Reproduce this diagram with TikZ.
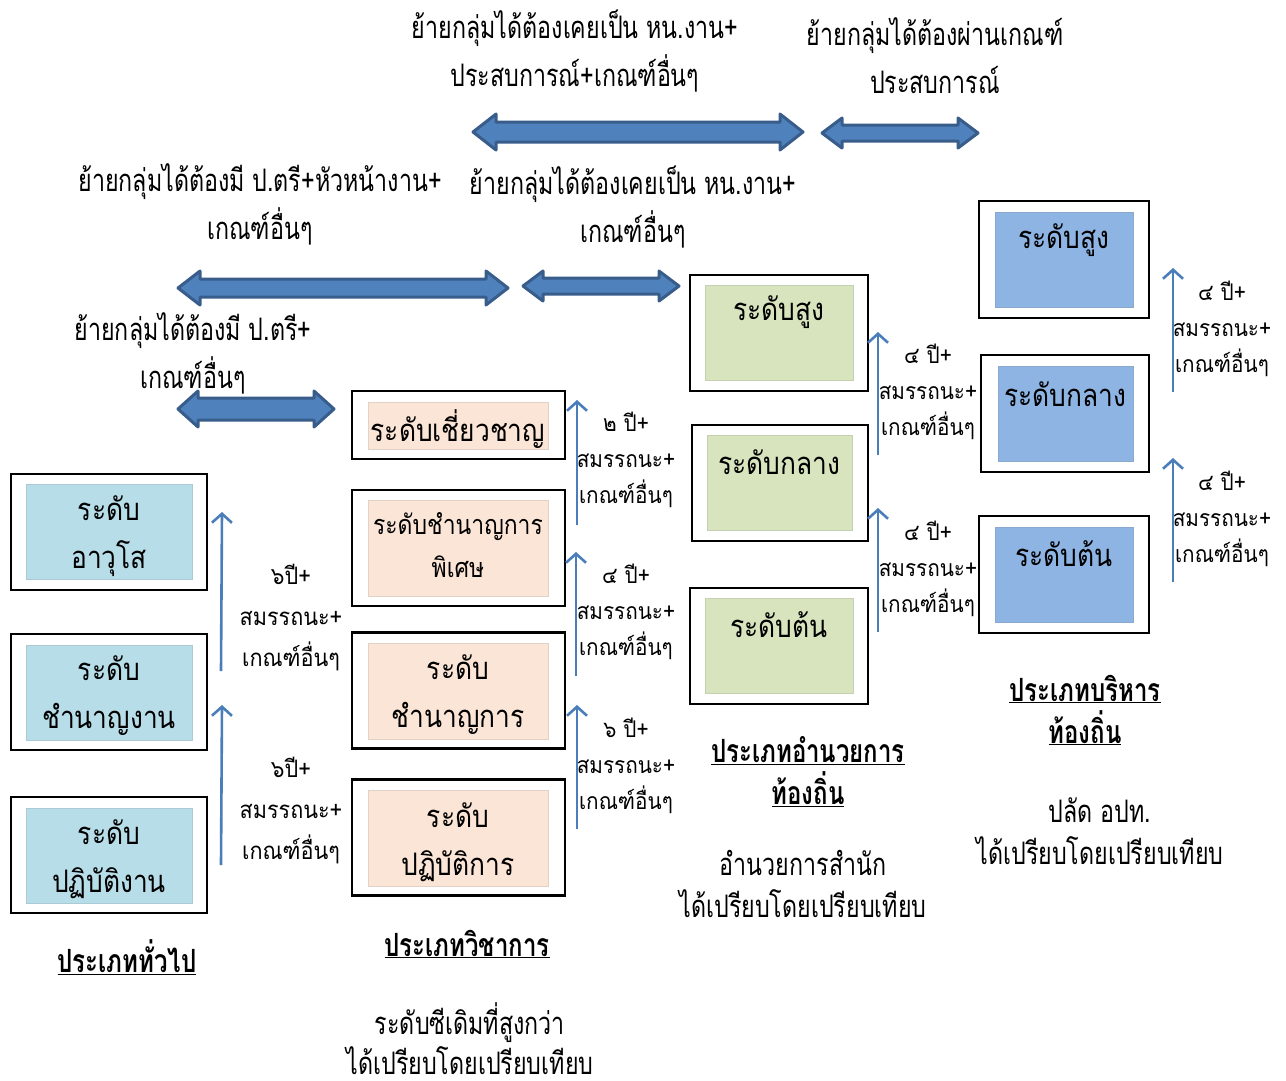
\documentclass[tikz,border=0pt]{standalone}
\usepackage{fontspec}
\setmainfont[Script=Thai]{Loma}
\newfontfamily\thcond[Script=Thai,FakeStretch=0.75]{Loma}
\newfontfamily\thbox[Script=Thai,FakeStretch=0.85]{Loma}
\newfontfamily\thlbl[Script=Thai,FakeStretch=0.9]{Loma}
\usetikzlibrary{arrows.meta}
\definecolor{genfill}{HTML}{B7DDE8}
\definecolor{acafill}{HTML}{FBE5D6}
\definecolor{dirfill}{HTML}{D7E4BD}
\definecolor{admfill}{HTML}{8EB4E3}
\definecolor{arrowblue}{HTML}{4A7EBB}
\definecolor{blockfill}{HTML}{4F81BD}
\definecolor{blockline}{HTML}{385D8A}
\newcommand\blockarr[7]{% name, left x, right x, yc, shaft half, head half, head length
  \coordinate (#1L) at (#2,#4);
  \coordinate (#1R) at (#3,#4);
  \draw[blockarrow] (#1L) -- ({#2+#7},{#4-#6}) -- ({#2+#7},{#4-#5}) -- ({#3-#7},{#4-#5}) -- ({#3-#7},{#4-#6}) -- (#1R)
   -- ({#3-#7},{#4+#6}) -- ({#3-#7},{#4+#5}) -- ({#2+#7},{#4+#5}) -- ({#2+#7},{#4+#6}) -- cycle;}
\begin{document}
\begin{tikzpicture}[x=1pt,y=-1pt,
  outerbox/.style={draw=black,line width=2.2pt,inner sep=0pt,fill=white},
  innerbox/.style={inner sep=0pt,draw=#1!80!gray,line width=0.6pt,fill=#1},
  boxtext/.style={align=center,font=\thbox\fontsize{31}{48}\selectfont,inner sep=0pt},
  lbl/.style={align=center,font=\thlbl\fontsize{23}{36}\selectfont,inner sep=0pt},
  toptext/.style={align=center,font=\thcond\fontsize{31}{48}\selectfont,inner sep=0pt},
  head/.style={align=center,font=\thcond\bfseries\fontsize{32}{42}\selectfont,inner sep=0pt},
  bodytext/.style={align=center,font=\thcond\fontsize{31}{42}\selectfont,inner sep=0pt},
  uparrow/.style={draw=arrowblue,line width=2.6pt,-{Straight Barb[length=9pt,width=20pt,line width=2.6pt]}},
  blockarrow/.style={fill=blockfill,draw=blockline,line width=3pt,line join=round}
]
\useasboundingbox[fill=white] (0,0) rectangle (1286,1080);

% ---------- top block arrows ----------
\blockarr{aa}{473}{803}{132}{10}{18}{23}
\blockarr{ab}{822}{978}{133}{8}{15}{20}
\blockarr{ba}{178}{508}{288}{9}{17}{22}
\blockarr{bb}{523}{679}{286}{8}{15}{20}
\blockarr{ca}{178}{334}{409}{11}{18}{20}

% ---------- top texts ----------
\node[toptext] (t1) at (575,51) {ย้ายกลุ่มได้ต้องเคยเป็น หน.งาน+\\ประสบการณ์+เกณฑ์อื่นๆ};
\node[toptext] (t2) at (935,56) {ย้ายกลุ่มได้ต้องผ่านเกณฑ์\\ประสบการณ์};
\node[toptext] (t3) at (260,204) {ย้ายกลุ่มได้ต้องมี ป.ตรี+หัวหน้างาน+\\เกณฑ์อื่นๆ};
\node[toptext] (t4) at (633,207) {ย้ายกลุ่มได้ต้องเคยเป็น หน.งาน+\\เกณฑ์อื่นๆ};
\node[toptext] (t5) at (193,353) {ย้ายกลุ่มได้ต้องมี ป.ตรี+\\เกณฑ์อื่นๆ};

% ---------- general column ----------
\node[outerbox,minimum width=196pt,minimum height=116pt] (g1) at (109,532) {};
\node[innerbox=genfill,minimum width=166pt,minimum height=95pt] (g1i) at (109,531.5) {};
\node[boxtext] (g1t) at (109,536) {ระดับ\\อาวุโส};
\node[outerbox,minimum width=196pt,minimum height=116pt] (g2) at (109,692) {};
\node[innerbox=genfill,minimum width=166pt,minimum height=95pt] (g2i) at (109,692.5) {};
\node[boxtext] (g2t) at (109,696) {ระดับ\\ชำนาญงาน};
\node[outerbox,minimum width=196pt,minimum height=116pt] (g3) at (109,855) {};
\node[innerbox=genfill,minimum width=166pt,minimum height=95pt] (g3i) at (109,855.5) {};
\node[boxtext] (g3t) at (109,859) {ระดับ\\ปฏิบัติงาน};

\coordinate (ga1s) at (221,671); \coordinate (ga1e) at (222,512);
\coordinate (ga2s) at (221,865); \coordinate (ga2e) at (222,705);
\draw[uparrow] (ga1s) -- (ga1e);
\draw[uparrow] (ga2s) -- (ga2e);
\node[lbl,font=\thlbl\fontsize{24}{41}\selectfont] (gl1) at (291,618) {๖ปี+\\สมรรถนะ+\\เกณฑ์อื่นๆ};
\node[lbl,font=\thlbl\fontsize{24}{41}\selectfont] (gl2) at (291,811) {๖ปี+\\สมรรถนะ+\\เกณฑ์อื่นๆ};

% ---------- academic column ----------
\node[outerbox,minimum width=213pt,minimum height=68pt] (a1) at (458.5,425) {};
\node[innerbox=acafill,minimum width=180pt,minimum height=47pt] (a1i) at (458,425.5) {};
\node[boxtext] (a1t) at (458,429) {ระดับเชี่ยวชาญ};
\node[outerbox,minimum width=213pt,minimum height=116pt] (a2) at (458.5,548) {};
\node[innerbox=acafill,minimum width=180pt,minimum height=96pt] (a2i) at (458,548) {};
\node[boxtext,font=\thbox\fontsize{27}{43}\selectfont] (a2t) at (458,545) {ระดับชำนาญการ\\พิเศษ};
\node[outerbox,minimum width=213pt,minimum height=116pt] (a3) at (458.5,690.5) {};
\node[innerbox=acafill,minimum width=180pt,minimum height=96pt] (a3i) at (458,691) {};
\node[boxtext] (a3t) at (458,695) {ระดับ\\ชำนาญการ};
\node[outerbox,minimum width=213pt,minimum height=116pt] (a4) at (458.5,837.5) {};
\node[innerbox=acafill,minimum width=180pt,minimum height=96pt] (a4i) at (458,838) {};
\node[boxtext] (a4t) at (458,842) {ระดับ\\ปฏิบัติการ};

\coordinate (aa1s) at (577,525); \coordinate (aa1e) at (577,400);
\coordinate (aa2s) at (576,676); \coordinate (aa2e) at (576,552);
\coordinate (aa3s) at (577,829); \coordinate (aa3e) at (577,705);
\draw[uparrow] (aa1s) -- (aa1e);
\draw[uparrow] (aa2s) -- (aa2e);
\draw[uparrow] (aa3s) -- (aa3e);
\node[lbl] (al1) at (626,460) {๒ ปี+\\สมรรถนะ+\\เกณฑ์อื่นๆ};
\node[lbl] (al2) at (626,612) {๔ ปี+\\สมรรถนะ+\\เกณฑ์อื่นๆ};
\node[lbl] (al3) at (626,766) {๖ ปี+\\สมรรถนะ+\\เกณฑ์อื่นๆ};

% ---------- director column ----------
\node[outerbox,minimum width=178pt,minimum height=116pt] (d1) at (779,333) {};
\node[innerbox=dirfill,minimum width=148pt,minimum height=95pt] (d1i) at (779,332.5) {};
\node[boxtext] (d1t) at (779,312) {ระดับสูง};
\node[outerbox,minimum width=176pt,minimum height=116pt] (d2) at (780,483) {};
\node[innerbox=dirfill,minimum width=145pt,minimum height=95pt] (d2i) at (779.5,482.5) {};
\node[boxtext] (d2t) at (779.5,462) {ระดับกลาง};
\node[outerbox,minimum width=178pt,minimum height=116pt] (d3) at (779,646) {};
\node[innerbox=dirfill,minimum width=148pt,minimum height=95pt] (d3i) at (779,645.5) {};
\node[boxtext] (d3t) at (779,625) {ระดับต้น};

\coordinate (da1s) at (878,455); \coordinate (da1e) at (878,332);
\coordinate (da2s) at (878,632); \coordinate (da2e) at (878,508);
\draw[uparrow] (da1s) -- (da1e);
\draw[uparrow] (da2s) -- (da2e);
\node[lbl] (dl1) at (928,392) {๔ ปี+\\สมรรถนะ+\\เกณฑ์อื่นๆ};
\node[lbl] (dl2) at (928,569) {๔ ปี+\\สมรรถนะ+\\เกณฑ์อื่นๆ};

% ---------- admin column ----------
\node[outerbox,minimum width=170pt,minimum height=117pt] (m1) at (1064,259.5) {};
\node[innerbox=admfill,minimum width=138pt,minimum height=95pt] (m1i) at (1064,259.5) {};
\node[boxtext] (m1t) at (1064,240) {ระดับสูง};
\node[outerbox,minimum width=168pt,minimum height=117pt] (m2) at (1065,413.5) {};
\node[innerbox=admfill,minimum width=135pt,minimum height=95pt] (m2i) at (1065.5,413.5) {};
\node[boxtext] (m2t) at (1065.5,394) {ระดับกลาง};
\node[outerbox,minimum width=170pt,minimum height=117pt] (m3) at (1064,574.5) {};
\node[innerbox=admfill,minimum width=138pt,minimum height=95pt] (m3i) at (1064,574.5) {};
\node[boxtext] (m3t) at (1064,554) {ระดับต้น};

\coordinate (ma1s) at (1173,392); \coordinate (ma1e) at (1173,268);
\coordinate (ma2s) at (1173,582); \coordinate (ma2e) at (1173,458);
\draw[uparrow] (ma1s) -- (ma1e);
\draw[uparrow] (ma2s) -- (ma2e);
\node[lbl] (ml1) at (1222,329) {๔ ปี+\\สมรรถนะ+\\เกณฑ์อื่นๆ};
\node[lbl] (ml2) at (1222,519) {๔ ปี+\\สมรรถนะ+\\เกณฑ์อื่นๆ};

% ---------- bottom captions ----------
\node[head] (h1) at (127,957) {\underline{ประเภททั่วไป}};
\node[head] (h2) at (467,944) {\underline{ประเภทวิชาการ}};
\node[bodytext,font=\thcond\fontsize{31}{40}\selectfont] (b2) at (470,1039) {ระดับซีเดิมที่สูงกว่า\\ได้เปรียบโดยเปรียบเทียบ};
\node[head] (h3) at (808,772) {\underline{ประเภทอำนวยการ}\\\underline{ท้องถิ่น}};
\node[bodytext] (b3) at (803,884) {อำนวยการสำนัก\\ได้เปรียบโดยเปรียบเทียบ};
\node[head] (h4) at (1085,710) {\underline{ประเภทบริหาร}\\\underline{ท้องถิ่น}};
\node[bodytext] (b4) at (1100,831) {ปลัด อปท.\\ได้เปรียบโดยเปรียบเทียบ};
\end{tikzpicture}
\end{document}
